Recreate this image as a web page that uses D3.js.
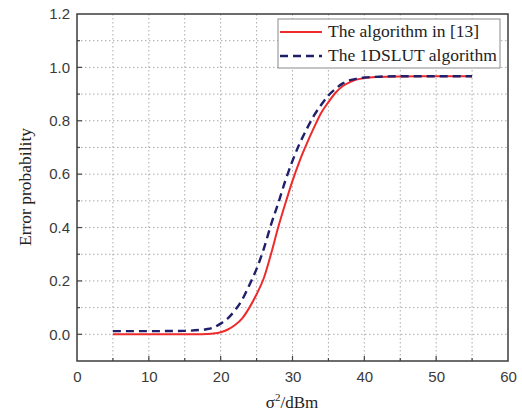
<!DOCTYPE html>
<html>
<head>
<meta charset="utf-8">
<script src="https://cdn.jsdelivr.net/npm/d3@7"></script>
<style>
  body { margin: 0; background: #fff; }
</style>
</head>
<body>
<div class="canvas"></div>
<script>
// data
const xs = [5, 10, 15, 17, 18, 19, 20, 21, 22, 23, 24, 25, 26, 27, 28, 29, 30, 31, 32, 33, 34, 35, 36, 37, 38, 39, 40, 42, 45, 50, 55]
const refAlg = [0, 0, 0, 0, 0.001, 0.003, 0.008, 0.018, 0.035, 0.06, 0.10, 0.15, 0.21, 0.30, 0.40, 0.49, 0.575, 0.65, 0.715, 0.775, 0.83, 0.87, 0.905, 0.93, 0.945, 0.955, 0.96, 0.964, 0.966, 0.967, 0.967]
const lutAlg = [0.012, 0.012, 0.013, 0.016, 0.019, 0.025, 0.04, 0.06, 0.09, 0.13, 0.185, 0.245, 0.32, 0.41, 0.49, 0.575, 0.65, 0.715, 0.77, 0.82, 0.86, 0.895, 0.92, 0.94, 0.952, 0.958, 0.962, 0.965, 0.967, 0.967, 0.967]
const seriesNames = ['The algorithm in [13]', 'The 1DSLUT algorithm']
const xTicks = [0, 10, 20, 30, 40, 50, 60]
const yTicks = [0, 0.2, 0.4, 0.6, 0.8, 1.0, 1.2]

const margin = { top: 14, right: 14, bottom: 53, left: 77 }
const svgWidth = 522, svgHeight = 414
const graphWidth = svgWidth - margin.left - margin.right, graphHeight = svgHeight - margin.top - margin.bottom

const svg = d3.select('.canvas')
  .append('svg')
  .attr('width', svgWidth)
  .attr('height', svgHeight)

const graph = svg.append('g')
  .attr('transform', `translate(${margin.left}, ${margin.top})`)

// scales
const x = d3.scaleLinear().domain([0, 60]).range([0, graphWidth])
const y = d3.scaleLinear().domain([-0.1, 1.2]).range([graphHeight, 0])

// dotted grid, every 5 on x and 0.1 on y
const gridX = d3.range(5, 60, 5)
const gridY = d3.range(0, 12).map(d => +(d / 10).toFixed(1))

graph.append('g').selectAll('line')
  .data(gridX)
  .enter().append('line')
  .attr('x1', d => x(d)).attr('x2', d => x(d))
  .attr('y1', 0).attr('y2', graphHeight)
  .attr('stroke', '#aaa')
  .attr('stroke-dasharray', '1.5,2.5')

graph.append('g').selectAll('line')
  .data(gridY)
  .enter().append('line')
  .attr('y1', d => y(d)).attr('y2', d => y(d))
  .attr('x1', 0).attr('x2', graphWidth)
  .attr('stroke', '#aaa')
  .attr('stroke-dasharray', '1.5,2.5')

// axes, ticks pointing inward
const xAxis = d3.axisBottom(x).tickValues(xTicks).tickSize(0).tickPadding(10).tickFormat(d3.format('d'))
const yAxis = d3.axisLeft(y).tickValues(yTicks).tickSize(0).tickPadding(7).tickFormat(d3.format('.1f'))

const xAxisGroup = graph.append('g')
  .attr('transform', `translate(0, ${graphHeight})`)
  .call(xAxis)
const yAxisGroup = graph.append('g').call(yAxis)

;[xAxisGroup, yAxisGroup].forEach(g => {
  g.select('.domain').remove()
  g.selectAll('text')
    .attr('fill', '#3a3a3a')
    .style('font-family', 'Liberation Sans, Arial, sans-serif')
    .style('font-size', '15px')
})

// tick marks
const tickColor = '#444'
graph.append('g').selectAll('line')
  .data(d3.range(5, 60, 5))
  .enter().append('line')
  .attr('x1', d => x(d)).attr('x2', d => x(d))
  .attr('y1', graphHeight).attr('y2', d => graphHeight - (d % 10 === 0 ? 5 : 3))
  .attr('stroke', tickColor).attr('stroke-width', 1.2)

graph.append('g').selectAll('line')
  .data(gridY)
  .enter().append('line')
  .attr('y1', d => y(d)).attr('y2', d => y(d))
  .attr('x1', 0).attr('x2', (d, i) => (i % 2 === 0 ? 5 : 3))
  .attr('stroke', tickColor).attr('stroke-width', 1.2)

// frame
graph.append('rect')
  .attr('width', graphWidth).attr('height', graphHeight)
  .attr('fill', 'none')
  .attr('stroke', '#3c3c3c')
  .attr('stroke-width', 1.5)

// line generator
const line = d3.line()
  .x(d => x(d[0]))
  .y(d => y(d[1]))
  .curve(d3.curveMonotoneX)

graph.append('path')
  .datum(xs.map((v, i) => [v, refAlg[i]]))
  .attr('fill', 'none')
  .attr('stroke', '#ee2a2a')
  .attr('stroke-width', 2)
  .attr('d', line)

graph.append('path')
  .datum(xs.map((v, i) => [v, lutAlg[i]]))
  .attr('fill', 'none')
  .attr('stroke', '#1f1f6b')
  .attr('stroke-width', 2.4)
  .attr('stroke-dasharray', '8,5')
  .attr('d', line)

// legend
const legend = svg.append('g').attr('transform', 'translate(278, 19)')
legend.append('rect')
  .attr('width', 222).attr('height', 49)
  .attr('fill', '#fff')
  .attr('stroke', '#8a8a8a')
  .attr('stroke-width', 1)

const legendStyles = [
  { stroke: '#ee2a2a', width: 2, dash: null },
  { stroke: '#1f1f6b', width: 2.4, dash: '8,5' }
]

seriesNames.forEach((name, i) => {
  const ly = 13 + i * 24
  legend.append('line')
    .attr('x1', 2).attr('x2', 44)
    .attr('y1', ly).attr('y2', ly)
    .attr('stroke', legendStyles[i].stroke)
    .attr('stroke-width', legendStyles[i].width)
    .attr('stroke-dasharray', legendStyles[i].dash)
  legend.append('text')
    .attr('x', 50).attr('y', ly + 5)
    .attr('fill', '#222')
    .style('font-family', 'Liberation Serif, Times New Roman, serif')
    .style('font-size', '17.5px')
    .text(name)
})

// axis titles
const xTitle = svg.append('text')
  .attr('x', 292).attr('y', 408)
  .attr('text-anchor', 'middle')
  .attr('fill', '#222')
  .style('font-family', 'Liberation Serif, Times New Roman, serif')
  .style('font-size', '17px')
xTitle.append('tspan').text('σ')
xTitle.append('tspan').attr('dy', -7).style('font-size', '11px').text('2')
xTitle.append('tspan').attr('dy', 7).text('/dBm')

svg.append('text')
  .attr('transform', 'translate(31, 187) rotate(-90)')
  .attr('text-anchor', 'middle')
  .attr('fill', '#222')
  .style('font-family', 'Liberation Serif, Times New Roman, serif')
  .style('font-size', '17.5px')
  .text('Error probability')
</script>
</body>
</html>
